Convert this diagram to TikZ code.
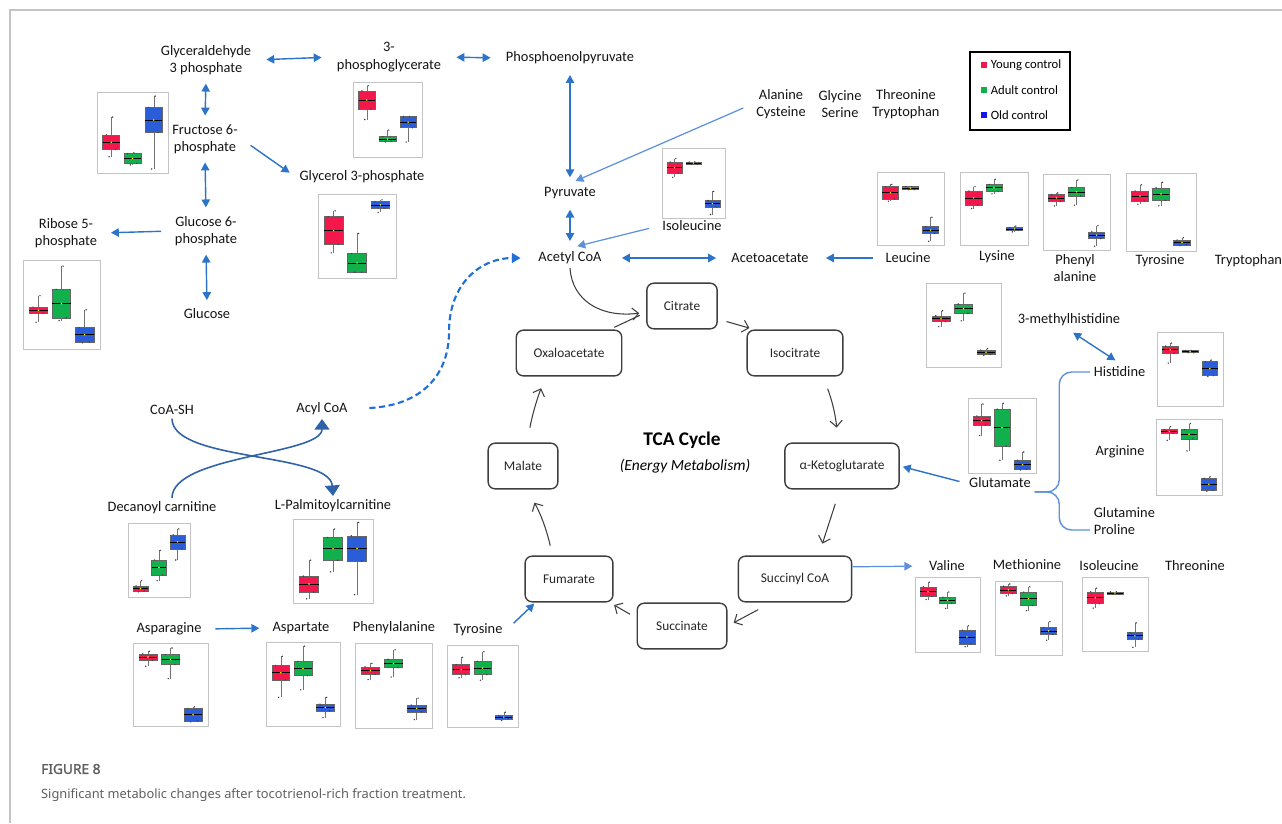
\documentclass[tikz,border=0pt]{standalone}
\usepackage{fontspec}
\setmainfont{Carlito}
\newfontfamily\capfont{Noto Sans}
\newfontfamily\capboldfont[FakeBold=1.6]{Noto Sans}
\usepackage{tikz}
\usetikzlibrary{arrows.meta, positioning}
\definecolor{pathblue}{HTML}{2B74C9}
\definecolor{feedblue}{HTML}{5B92DB}
\definecolor{carnblue}{HTML}{2F62A8}
\definecolor{dashblue}{HTML}{1F6FD6}
\definecolor{youngred}{HTML}{F4174C}
\definecolor{adultgreen}{HTML}{12B04C}
\definecolor{oldblue}{HTML}{2C5DD8}
\definecolor{legblue}{HTML}{1414F0}
\definecolor{framegray}{HTML}{C4C4C4}
\definecolor{capgray}{HTML}{5F5F5F}
\definecolor{boxgray}{HTML}{3F3F3F}

\newcommand{\metfont}{\fontsize{8.2}{9.8}\selectfont}
\newcommand{\tcafont}{\fontsize{7.6}{9}\selectfont}
\newcommand{\legfont}{\fontsize{7.2}{8.5}\selectfont}

% one box of a box plot: colour, centre, box top, box bottom, whisker top, whisker bottom
\newcommand{\bbox}[6]{%
  \draw[black!55, line width=0.3pt] (#2,#5) -- (#2,#6);
  \filldraw[fill=#1, draw=black!60, line width=0.3pt] (#2-0.12,#3) rectangle (#2+0.12,#4);
  \draw[black, line width=0.4pt] (#2-0.12,{(#3+#4)/2}) -- (#2+0.12,{(#3+#4)/2});
  \fill[black!75] (#2-0.07,#3) circle (0.45pt) (#2+0.06,#4) circle (0.45pt)
    (#2+0.02,#5) circle (0.45pt) (#2-0.03,#6) circle (0.45pt);
  \fill[yellow] (#2,{(#3+#4)/2}) circle (0.5pt);}
% box plot panel: left, top, width, height, then young / adult / old
\newcommand{\bplot}[7]{%
  \begin{scope}[shift={(#1,#2)}, x=#3*0.02cm, y=-#4*0.02cm]
    \draw[framegray, line width=0.5pt] (0,0) rectangle (1,1);
    \bbox{youngred}{0.2}#5
    \bbox{adultgreen}{0.5}#6
    \bbox{oldblue}{0.8}#7
  \end{scope}}

\begin{document}
\begin{tikzpicture}[x=0.02cm, y=-0.02cm]
    % Styles
    \tikzstyle{met} = [font=\metfont, align=center, inner sep=2pt, text=black!92]
    \tikzstyle{tcabox} = [draw=boxgray, line width=0.8pt, rounded corners=4pt, minimum height=26pt, font=\tcafont, text=black!85]
    \tikzstyle{conv} = [pathblue, line width=0.8pt, -{Triangle[length=4.5pt, width=4.8pt]}]
    \tikzstyle{biconv} = [pathblue, line width=0.8pt, {Triangle[length=4.5pt, width=4.8pt]}-{Triangle[length=4.5pt, width=4.8pt]}]
    \tikzstyle{feed} = [feedblue, line width=0.7pt, -{Triangle[length=4.5pt, width=4.8pt]}]
    \tikzstyle{tcaflow} = [boxgray, line width=0.6pt, -{Straight Barb[length=3.5pt, width=7pt]}]
    \tikzstyle{carn} = [carnblue, line width=0.9pt, -{Triangle[length=6pt, width=8.5pt]}]

    \useasboundingbox (0,0) rectangle (1282,823);
    \draw[framegray, line width=0.6pt] (10,823) -- (10,10) -- (1282,10);

    % Glycolysis
    \node[met] (gap) at (206,60) {Glyceraldehyde\\3 phosphate};
    \node[met] (pg) at (389,57) {3-\\phosphoglycerate};
    \node[met] (pep) at (570,58) {Phosphoenolpyruvate};
    \node[met] (f6p) at (205,139) {Fructose 6-\\phosphate};
    \node[met] (g3p) at (362,177) {Glycerol 3-phosphate};
    \node[met] (g6p) at (206,231) {Glucose 6-\\phosphate};
    \node[met] (r5p) at (66,233) {Ribose 5-\\phosphate};
    \node[met] (glc) at (207,314) {Glucose};
    \node[met] (pyr) at (570,193) {Pyruvate};
    \node[met] (acoa) at (570,258) {Acetyl CoA};
    \node[met] (acac) at (770,258) {Acetoacetate};

    \bplot{97}{92}{71}{81}{{0.53}{0.71}{0.31}{0.80}}{{0.76}{0.88}{0.75}{0.90}}{{0.19}{0.50}{0.05}{0.95}}
    \bplot{23}{260}{77}{89}{{0.53}{0.60}{0.40}{0.70}}{{0.33}{0.65}{0.07}{0.68}}{{0.76}{0.92}{0.56}{0.93}}
    \bplot{353}{82}{69}{75}{{0.12}{0.36}{0.05}{0.50}}{{0.73}{0.79}{0.64}{0.80}}{{0.46}{0.61}{0.46}{0.80}}
    \bplot{318}{194}{78}{84}{{0.27}{0.60}{0.20}{0.70}}{{0.71}{0.93}{0.47}{0.93}}{{0.09}{0.17}{0.07}{0.22}}

    % Amino acids feeding pyruvate and acetyl CoA
    \node[met] (ala) at (781,104) {Alanine\\Cysteine};
    \node[met] (gly) at (840,104) {Glycine\\Serine};
    \node[met] (thr) at (906,104) {Threonine\\Tryptophan};
    \node[met] (ile) at (692,226) {Isoleucine};
    \bplot{662}{148}{63}{70}{{0.20}{0.36}{0.15}{0.42}}{{0.20}{0.23}{0.20}{0.23}}{{0.75}{0.84}{0.62}{0.95}}

    \node[met] (leu) at (908,258) {Leucine};
    \node[met] (lys) at (997,257) {Lysine};
    \node[met] (phe) at (1075,268) {Phenyl\\alanine};
    \node[met] (tyr) at (1160,261) {Tyrosine};
    \node[met, anchor=west] (trp) at (1211,261) {Tryptophan};
    \bplot{877}{172}{67}{73}{{0.20}{0.37}{0.17}{0.40}}{{0.20}{0.24}{0.20}{0.24}}{{0.75}{0.84}{0.62}{0.95}}
    \bplot{960}{172}{68}{73}{{0.26}{0.45}{0.20}{0.50}}{{0.17}{0.26}{0.10}{0.30}}{{0.76}{0.80}{0.74}{0.82}}
    \bplot{1043}{174}{67}{76}{{0.27}{0.36}{0.25}{0.42}}{{0.18}{0.29}{0.08}{0.41}}{{0.76}{0.85}{0.68}{0.95}}
    \bplot{1126}{173}{70}{78}{{0.23}{0.36}{0.15}{0.40}}{{0.19}{0.35}{0.12}{0.42}}{{0.86}{0.92}{0.83}{0.93}}

    % Legend
    \node[draw=black, line width=0.9pt, minimum width=56.7pt, minimum height=44.2pt] (legend) at (1020,91) {};
    \node[fill=youngred, inner sep=0pt, minimum size=3.8pt] (sqy) at (984,65) {};
    \node[fill=adultgreen, inner sep=0pt, minimum size=3.8pt] (sqa) at (984,90) {};
    \node[fill=legblue, inner sep=0pt, minimum size=3.8pt] (sqo) at (984,115) {};
    \node[anchor=west, font=\legfont, inner sep=2pt] (lgy) at (987,65) {Young control};
    \node[anchor=west, font=\legfont, inner sep=2pt] (lga) at (987,90) {Adult control};
    \node[anchor=west, font=\legfont, inner sep=2pt] (lgo) at (987,115) {Old control};

    % TCA cycle
    \node[tcabox, minimum width=40pt] (cit) at (682,306) {Citrate};
    \node[tcabox, minimum width=54.5pt] (ico) at (795,353) {Isocitrate};
    \node[tcabox, minimum width=65pt] (akg) at (842,466) {α-Ketoglutarate};
    \node[tcabox, minimum width=64.5pt] (sca) at (795,579) {Succinyl CoA};
    \node[tcabox, minimum width=51pt] (suc) at (682,626) {Succinate};
    \node[tcabox, minimum width=50pt] (fum) at (569,579) {Fumarate};
    \node[tcabox, minimum width=39.7pt] (mal) at (523,466) {Malate};
    \node[tcabox, minimum width=60pt] (oaa) at (569,353) {Oxaloacetate};
    \node[font=\fontsize{11}{13}\selectfont\bfseries] (tcatitle) at (682,440) {TCA Cycle};
    \node[font=\fontsize{8.8}{10}\selectfont\itshape] (tcasub) at (685,466) {(Energy Metabolism)};

    % Histidine / glutamate branch
    \node[met] (mhis) at (1069,320) {3-methylhistidine};
    \node[met, anchor=west] (his) at (1090,372) {Histidine};
    \node[met] (arg) at (1120,452) {Arginine};
    \node[met, anchor=west] (gln) at (1090,513) {Glutamine};
    \node[met, anchor=west] (pro) at (1090,530) {Proline};
    \node[met] (glu) at (1000,483) {Glutamate};
    \bplot{926}{283}{75}{84}{{0.39}{0.46}{0.33}{0.52}}{{0.25}{0.36}{0.12}{0.45}}{{0.80}{0.85}{0.78}{0.86}}
    \bplot{1157}{332}{66}{74}{{0.19}{0.29}{0.15}{0.42}}{{0.25}{0.28}{0.25}{0.28}}{{0.40}{0.59}{0.38}{0.60}}
    \bplot{1156}{419}{66}{76}{{0.14}{0.19}{0.10}{0.28}}{{0.14}{0.26}{0.06}{0.42}}{{0.78}{0.94}{0.76}{0.95}}
    \bplot{968}{398}{68}{75}{{0.24}{0.36}{0.08}{0.50}}{{0.15}{0.64}{0.07}{0.83}}{{0.83}{0.95}{0.72}{0.96}}

    % Succinyl CoA branch
    \node[met] (val) at (947,566) {Valine};
    \node[met] (met) at (1027,565) {Methionine};
    \node[met] (ile2) at (1109,566) {Isoleucine};
    \node[met] (thr2) at (1195,566) {Threonine};
    \bplot{915}{577}{65}{75}{{0.13}{0.26}{0.07}{0.30}}{{0.27}{0.35}{0.20}{0.42}}{{0.71}{0.89}{0.65}{0.93}}
    \bplot{995}{581}{67}{74}{{0.07}{0.17}{0.04}{0.20}}{{0.15}{0.33}{0.08}{0.40}}{{0.63}{0.72}{0.55}{0.80}}
    \bplot{1082}{577}{66}{74}{{0.20}{0.36}{0.15}{0.42}}{{0.20}{0.23}{0.20}{0.23}}{{0.75}{0.84}{0.62}{0.95}}

    % Fumarate branch
    \node[met] (asn) at (169,629) {Asparagine};
    \node[met] (asp) at (301,628) {Aspartate};
    \node[met] (phe2) at (394,628) {Phenylalanine};
    \node[met] (tyr2) at (478,630) {Tyrosine};
    \bplot{133}{643}{75}{83}{{0.13}{0.21}{0.10}{0.28}}{{0.14}{0.26}{0.06}{0.43}}{{0.79}{0.94}{0.77}{0.95}}
    \bplot{266}{642}{74}{84}{{0.28}{0.45}{0.17}{0.66}}{{0.23}{0.40}{0.05}{0.57}}{{0.74}{0.82}{0.66}{0.90}}
    \bplot{355}{643}{77}{85}{{0.28}{0.37}{0.24}{0.43}}{{0.19}{0.29}{0.08}{0.40}}{{0.73}{0.81}{0.65}{0.90}}
    \bplot{447}{645}{71}{82}{{0.24}{0.36}{0.15}{0.40}}{{0.20}{0.36}{0.08}{0.43}}{{0.86}{0.90}{0.82}{0.92}}

    % Carnitine shuttle
    \node[met] (coash) at (172,410) {CoA-SH};
    \node[met] (acyl) at (322,409) {Acyl CoA};
    \node[met] (dec) at (162,508) {Decanoyl carnitine};
    \node[met] (lpc) at (333,506) {L-Palmitoylcarnitine};
    \bplot{128}{523}{62}{74}{{0.85}{0.92}{0.78}{0.93}}{{0.50}{0.70}{0.37}{0.78}}{{0.16}{0.35}{0.08}{0.50}}
    \bplot{293}{519}{80}{84}{{0.68}{0.87}{0.49}{0.95}}{{0.22}{0.49}{0.12}{0.63}}{{0.20}{0.50}{0.04}{0.90}}

    % Caption
    \node[anchor=west, font=\capboldfont\fontsize{7.8}{9}\selectfont, text=capgray] (figno) at (35,769) {FIGURE 8};
    \node[anchor=west, font=\capfont\fontsize{7.3}{9}\selectfont, text=capgray] (figcap) at (35,795) {Significant metabolic changes after tocotrienol-rich fraction treatment.};

    % Arrows - glycolysis
    \draw[biconv, shorten <=1mm, shorten >=1mm] (gap.south) -- (f6p.north);
    \draw[biconv, shorten <=1mm, shorten >=1mm] (f6p.south) -- (g6p.north);
    \draw[biconv, shorten <=1mm, shorten >=1mm] (g6p.south) -- (glc.north);
    \draw[biconv, shorten <=2.3mm, shorten >=2.3mm] (gap.east) -- (pg.west);
    \draw[biconv, shorten <=2.3mm, shorten >=2.3mm] (pg.east) -- (pep.west);
    \draw[conv, shorten <=2.2mm, shorten >=1.5mm] (f6p.east) -- (g3p.west);
    \draw[conv, shorten <=2mm, shorten >=2mm] (g6p.west) -- (r5p.east);
    \draw[biconv, shorten <=1.4mm, shorten >=1.2mm] (pep.south) -- (pyr.north);
    \draw[biconv, shorten <=1.4mm, shorten >=1.4mm] (pyr.south) -- (acoa.north);
    \draw[feed, shorten <=2mm, shorten >=1.2mm] (ala.west) -- (pyr.north);
    \draw[feed, shorten <=2mm, shorten >=1.5mm] (ile.west) -- (acoa.north);
    \draw[biconv, shorten <=3.3mm, shorten >=2.3mm] (acoa.east) -- (acac.west);
    \draw[conv, shorten <=1.8mm, shorten >=2.7mm] (leu.west) -- (acac.east);

    % Arrows - TCA cycle
    \draw[tcaflow, shorten >=1.4mm] (acoa.south) .. controls (572,300) and (600,318) .. (cit.190);
    \draw[boxgray, line width=0.6pt, shorten <=1mm, shorten >=1.4mm] (oaa.30) -- (cit.190);
    \draw[tcaflow, shorten <=1.8mm, shorten >=1mm] (cit.-20) -- (ico.150);
    \draw[tcaflow, shorten <=2.6mm, shorten >=3mm] (ico.-40) to[bend left=8] (akg.100);
    \draw[tcaflow, shorten <=3mm, shorten >=2.5mm] (akg.-95) -- (sca.45);
    \draw[tcaflow, shorten <=3mm, shorten >=1.4mm] (sca.-135) -- (suc.east);
    \draw[tcaflow, shorten <=1.5mm, shorten >=1mm] (suc.170) -- (fum.-30);
    \draw[tcaflow, shorten <=2mm, shorten >=3mm] (fum.125) to[bend right=8] (mal.-80);
    \draw[tcaflow, shorten <=3mm, shorten >=2.5mm] (mal.80) to[bend left=5] (oaa.-135);

    % Side arrows
    \draw[conv, shorten <=2mm, shorten >=0.3mm] (tyr2.east) -- (fum.-145);
    \draw[conv, shorten <=2mm, shorten >=1.9mm] (asn.east) -- (asp.west);
    \draw[feed, shorten >=2.6mm] (sca.12) -- (val.west);
    \draw[conv, shorten <=1.2mm, shorten >=0.6mm] (glu.west) -- (akg.east);
    \draw[biconv, shorten <=1mm, shorten >=1mm] (mhis.south) -- (his.north);
    \coordinate (glufork) at ([xshift=14pt]glu.south east);
    \draw[feedblue, line width=0.8pt, rounded corners=7pt] (his.west) -| (glufork) -- (glu.south east);
    \draw[feedblue, line width=0.8pt, rounded corners=7pt] (pro.west) -| (glufork) -- (glu.south east);

    % Carnitine curves
    \draw[carn] (coash.south) .. controls (172,462) and (330,452) .. (lpc.north);
    \draw[carn] (dec.north -| coash.south) .. controls (172,455) and (322,455) .. (acyl.south);
    \draw[dashblue, line width=1.2pt, dash pattern=on 3.5pt off 2pt, -{Triangle[length=5pt, width=5.5pt]}, shorten <=3.6mm, shorten >=2.8mm] (acyl.east) .. controls (425,405) and (449,372) .. (449,332) .. controls (449,282) and (482,258) .. (acoa.west);
\end{tikzpicture}
\end{document}
